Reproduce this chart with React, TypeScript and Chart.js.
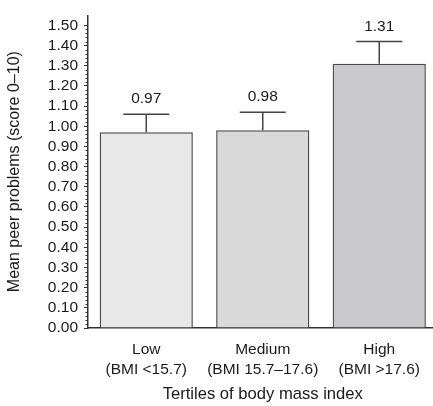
import React, { useEffect, useRef } from "react";
import { Chart, registerables } from "chart.js";

Chart.register(...registerables);

const CATEGORIES: string[][] = [
  ["Low", "(BMI <15.7)"],
  ["Medium", "(BMI 15.7–17.6)"],
  ["High", "(BMI >17.6)"],
];
const MEANS: number[] = [0.97, 0.98, 1.31];
const UPPER: number[] = [1.06, 1.07, 1.42];
const VALUE_LABELS: string[] = ["0.97", "0.98", "1.31"];
const Y_TICKS: number[] = [0, 0.1, 0.2, 0.3, 0.4, 0.5, 0.6, 0.7, 0.8, 0.9, 1.0, 1.1, 1.2, 1.3, 1.4, 1.5];
const MINOR_STEP = 0.02;
const BAR_COLORS: string[] = ["#e8e8e8", "#d9d9da", "#c9c9cb"];

const FONT = "'Liberation Sans', Arial, Helvetica, sans-serif";
const INK = "#1a1a1a";

const widenXPlugin = {
  id: "widenX",
  afterLayout(chart: any) {
    const x = chart.scales.x;
    const extra = 4.5;
    x.right = x.right + extra;
    x.width = x.right - x.left;
    x.configure();
  },
};

const errorBarPlugin = {
  id: "errorBars",
  afterDatasetsDraw(chart: any) {
    const ctx = chart.ctx;
    const meta = chart.getDatasetMeta(0);
    const y = chart.scales.y;
    ctx.save();
    meta.data.forEach((bar: any, i: number) => {
      const x = bar.x;
      const top = y.getPixelForValue(MEANS[i]);
      const up = y.getPixelForValue(UPPER[i]);
      const half = 23;
      ctx.strokeStyle = "#444";
      ctx.lineWidth = 1.5;
      ctx.beginPath();
      ctx.moveTo(x, top);
      ctx.lineTo(x, up);
      ctx.moveTo(x - half, up);
      ctx.lineTo(x + half, up);
      ctx.stroke();
      ctx.fillStyle = INK;
      ctx.font = `15.5px ${FONT}`;
      ctx.textAlign = "center";
      ctx.textBaseline = "alphabetic";
      ctx.fillText(VALUE_LABELS[i], x, up - 11);
    });
    // minor ticks on y axis
    const left = chart.chartArea.left;
    ctx.strokeStyle = "#333";
    ctx.lineWidth = 1;
    for (let k = 0; k * MINOR_STEP <= 1.5 + 1e-9; k++) {
      if (k % 5 === 0) continue;
      const py = Math.round(y.getPixelForValue(k * MINOR_STEP)) + 0.5;
      ctx.beginPath();
      ctx.moveTo(left - 2.5, py);
      ctx.lineTo(left, py);
      ctx.stroke();
    }
    ctx.restore();
  },
};

export default function App() {
  const ref = useRef<HTMLCanvasElement | null>(null);
  useEffect(() => {
    if (!ref.current) return;
    const chart = new Chart(ref.current, {
      type: "bar",
      data: {
        labels: CATEGORIES,
        datasets: [
          {
            data: MEANS,
            backgroundColor: BAR_COLORS,
            borderColor: "#4a4a4a",
            borderWidth: 1.5,
            categoryPercentage: 1,
            barPercentage: 0.8,
          },
        ],
      },
      options: {
        responsive: false,
        animation: false,
        devicePixelRatio: 1,
        layout: { padding: { top: 14, right: 0, bottom: 0, left: 0 } },
        plugins: {
          legend: { display: false },
          tooltip: { enabled: false },
        },
        scales: {
          x: {
            grid: { display: false },
            border: { display: true, color: "#333", width: 1.5 },
            ticks: {
              color: INK,
              font: { family: FONT, size: 15.5, lineHeight: 1.26 },
              padding: 4,
              maxRotation: 0,
              autoSkip: false,
            },
            title: {
              display: true,
              text: "Tertiles of body mass index",
              color: INK,
              font: { family: FONT, size: 16.6 },
              padding: { top: 0, bottom: 2 },
            },
            afterFit: (s: any) => {
              s.height = 78;
            },
          },
          y: {
            min: 0,
            max: 1.55,
            afterBuildTicks: (s: any) => {
              s.ticks = Y_TICKS.map((v) => ({ value: v }));
            },
            grid: {
              drawOnChartArea: false,
              drawTicks: true,
              tickLength: 4,
              color: "#333",
            },
            border: { display: true, color: "#333", width: 1.5 },
            ticks: {
              color: INK,
              font: { family: FONT, size: 15.5 },
              padding: 6,
              autoSkip: false,
              callback: (v: any) => Number(v).toFixed(2),
            },
            title: {
              display: true,
              text: "Mean peer problems (score 0–10)",
              color: INK,
              font: { family: FONT, size: 16 },
              padding: { top: 5, bottom: 0 },
            },
            afterFit: (s: any) => {
              s.width = 88;
            },
          },
        },
      },
      plugins: [widenXPlugin, errorBarPlugin],
    });
    return () => chart.destroy();
  }, []);
  return (
    <div style={{ position: "fixed", left: 0, top: 0, width: 433, height: 406, background: "#fff" }}>
      <canvas ref={ref} width={433} height={406} />
    </div>
  );
}
